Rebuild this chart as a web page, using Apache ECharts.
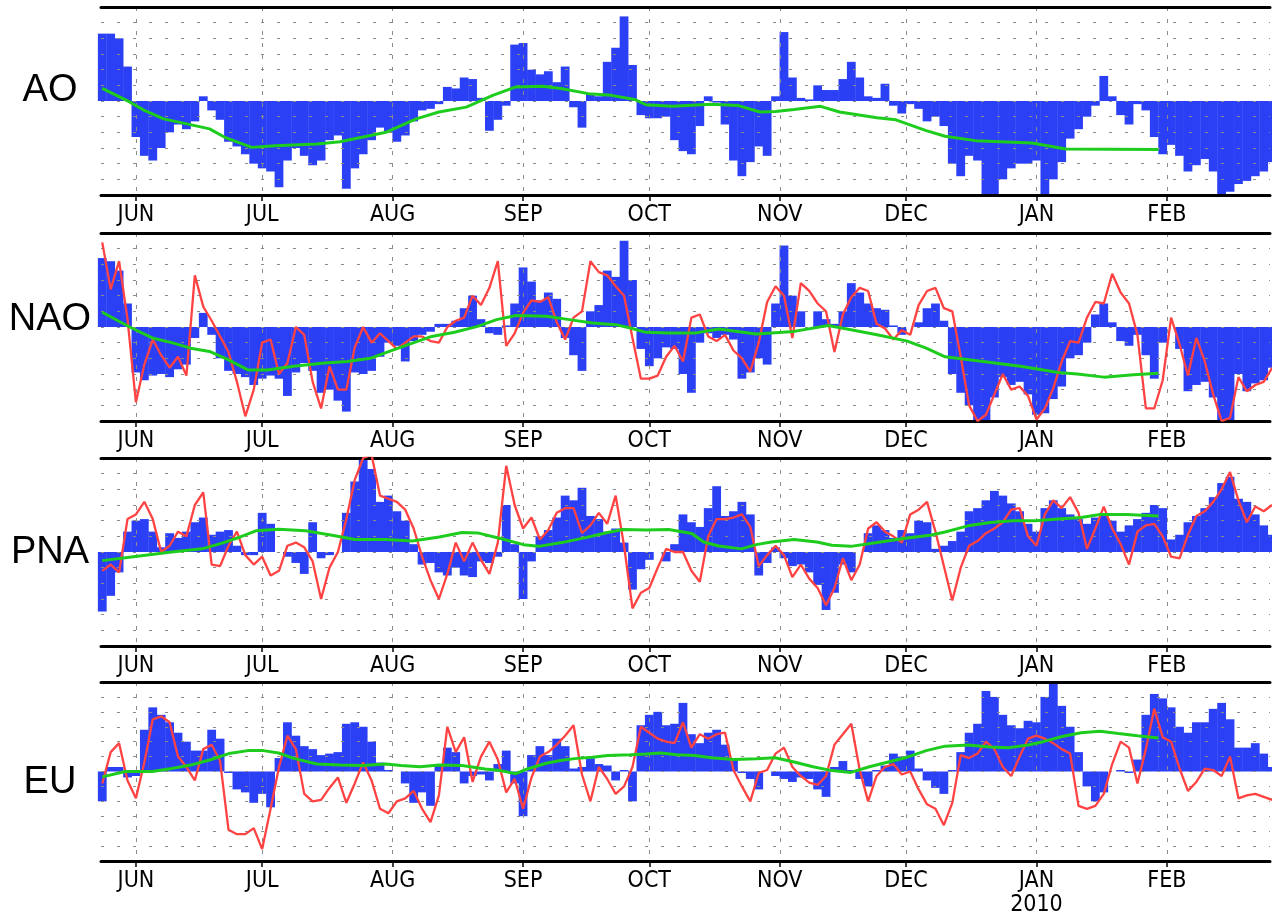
<!DOCTYPE html>
<html>
<head>
<meta charset="utf-8">
<script src="https://cdn.jsdelivr.net/npm/echarts@6/dist/echarts.min.js"></script>
<style>
html,body{margin:0;padding:0;background:#ffffff;}
#chart{width:1272px;height:917px;}
</style>
</head>
<body>
<div id="chart"></div>
<script>
// ---- axis / tick data ----
// day index 0 = 1 June 2009; samples every 2 days starting 24 May 2009 (day -8)
const monthDays  = [0, 30, 61, 92, 122, 153, 183, 214, 245];
const monthNames = ['JUN', 'JUL', 'AUG', 'SEP', 'OCT', 'NOV', 'DEC', 'JAN', 'FEB'];
const yearLabel  = '2010';
const panelNames = ['AO', 'NAO', 'PNA', 'EU'];
const firstDay = -8;
const dayStep  = 2;

// ---- AO ----
const barsAO = [
  4.3,4.3,4.0,2.2,-2.3,-3.5,-3.8,-3.0,-2.0,-1.5,
  -1.8,-1.3,0.3,-0.6,-1.2,-2.6,-2.9,-3.4,-4.0,-4.3,
  -4.5,-5.5,-3.8,-3.0,-3.5,-4.1,-3.8,-2.5,-2.2,-5.6,
  -4.3,-3.4,-2.5,-1.7,-2.0,-2.6,-2.2,-1.3,-0.6,-0.5,
  -0.2,0.9,0.8,1.5,1.4,0.2,-1.9,-1.2,-0.3,3.6,
  3.7,2.0,1.7,1.9,1.2,2.2,-0.4,-1.7,0.5,0.3,
  2.5,3.4,5.4,2.3,-0.9,-1.1,-1.1,-1.0,-2.5,-3.2,
  -3.4,-1.6,0.3,-0.1,-1.5,-3.8,-4.8,-3.9,-2.9,-3.5,
  0.3,4.4,1.5,0.2,0.1,1.0,0.7,0.7,1.4,2.5,
  1.5,0.3,0.2,1.1,-0.3,-0.8,-0.2,-0.5,-1.3,-1.0,
  -1.6,-4.0,-4.8,-3.5,-3.8,-6.5,-6.5,-5.0,-4.3,-4.0,
  -4.0,-3.8,-6.5,-5.0,-3.9,-2.4,-1.8,-1.0,-0.3,1.6,
  0.3,-0.9,-1.5,-0.2,-0.6,-2.3,-3.4,-2.8,-3.5,-4.5,
  -4.1,-3.7,-4.5,-6.2,-5.8,-5.3,-5.1,-4.8,-4.5,-3.9
];
const greenAO = [
  [-8,0.8],[-1.5,-0.06],[2,-0.6],[6.6,-1.14],[14,-1.57],[17.5,-1.78],[21,-2.3],[27.5,-2.96],
  [33,-2.85],[43,-2.75],[48.5,-2.6],[54,-2.3],[59.4,-2.0],[63,-1.57],[66.6,-1.14],[72,-0.7],
  [78.5,-0.39],[84.8,0.36],[90.3,0.9],[96.6,0.94],[101,0.8],[107.5,0.47],[113,0.36],[118.5,0.1],
  [121.2,-0.24],[127.5,-0.34],[136.7,-0.21],[143,-0.28],[148.3,-0.7],[152,-0.67],[156.4,-0.54],
  [162.7,-0.34],[167.2,-0.7],[176.1,-1.07],[180.6,-1.2],[187.8,-1.89],[192.3,-2.25],[199.5,-2.53],
  [212.9,-2.68],[221,-3.07],[243,-3.1]
];

// ---- NAO ----
const barsNAO = [
  4.4,4.2,3.6,1.5,-2.9,-3.4,-3.1,-3.0,-3.2,-2.7,
  -2.4,-0.7,0.9,-0.5,-2.0,-2.8,-3.0,-3.2,-3.7,-3.3,
  -3.1,-3.3,-4.4,-2.9,-2.3,-2.8,-4.2,-4.0,-4.7,-5.4,
  -2.9,-3.0,-2.8,-1.9,-1.0,-1.2,-2.2,-0.9,-0.5,-0.3,
  0.2,0.2,0.4,1.2,2.0,0.5,-0.4,-0.5,0.1,1.5,
  3.8,2.9,1.7,2.2,1.8,-0.7,-1.8,-2.8,1.0,1.4,
  3.6,3.2,5.5,3.0,-1.4,-2.5,-2.0,-1.3,-1.4,-3.0,
  -4.2,-1.0,-0.4,-0.7,-0.5,-0.8,-3.3,-2.9,-2.0,-2.4,
  1.5,5.2,2.0,1.0,0.0,1.0,0.5,0.2,1.0,2.8,
  2.2,1.5,1.2,1.1,0.1,-0.5,0.0,0.3,1.2,1.5,
  0.4,-3.0,-4.2,-5.0,-6.3,-6.3,-4.5,-3.2,-3.7,-3.5,
  -4.3,-5.6,-5.5,-4.6,-3.8,-2.0,-1.8,-1.0,0.8,1.5,
  0.3,-0.9,-1.2,-0.5,-1.8,-3.3,-1.0,0.0,-1.4,-4.1,
  -3.7,-3.5,-4.5,-6.3,-6.3,-3.0,-4.1,-3.6,-3.4,-2.6
];
const redNAO = [
  5.4,2.4,4.2,0.5,-4.8,-2.4,-0.8,-1.8,-2.6,-1.9,
  -3.1,3.3,1.3,0.4,-0.6,-1.6,-3.5,-5.7,-4.0,-1.0,
  -0.8,-3.0,-2.3,0.0,-0.5,-3.5,-5.2,-2.5,-4.0,-4.0,
  -1.3,0.0,-1.0,-0.4,-0.9,-1.4,-1.0,-0.6,-0.6,-0.9,
  -1.0,0.0,0.4,0.6,2.0,1.4,2.5,4.2,-1.2,-0.4,
  0.9,1.7,1.6,1.9,0.3,-0.8,0.6,1.0,4.2,3.5,
  3.3,2.6,2.0,-0.7,-3.3,-3.3,-3.1,-1.9,-1.2,-2.2,
  0.6,0.8,-0.6,-0.9,-0.5,-1.5,-2.0,-2.85,-1.0,1.6,
  2.6,2.0,-0.7,2.8,2.3,1.5,1.0,-1.6,0.8,1.9,
  2.5,2.3,0.2,-0.1,-0.8,-0.2,-0.5,1.4,2.3,2.5,
  1.2,1.0,-1.9,-5.0,-6.0,-5.6,-4.3,-3.0,-4.0,-3.8,
  -4.4,-5.9,-5.2,-3.9,-2.2,-0.9,-1.0,0.6,1.6,1.5,
  3.4,2.2,1.5,-0.5,-5.2,-5.2,-3.4,0.6,-1.1,-3.1,
  -0.7,-2.2,-4.3,-6.0,-5.8,-3.2,-4.1,-3.7,-3.5,-2.6
];
const greenNAO = [
  [-8,0.94],[-1.5,0],[3.9,-0.7],[8.5,-1.0],[13,-1.35],[17.5,-1.56],[22,-2.1],[26.6,-2.74],
  [31.2,-2.74],[37.5,-2.5],[44.8,-2.3],[50.3,-2.2],[55.7,-2.0],[61.2,-1.46],[65.7,-1.03],
  [70.3,-0.6],[75.7,-0.34],[81.2,0.04],[85.7,0.47],[90.3,0.73],[97.5,0.68],[103,0.47],
  [108.5,0.26],[114,0.15],[117.5,-0.06],[121.2,-0.34],[126.6,-0.39],[132.8,-0.39],[138.5,-0.13],
  [147.4,-0.45],[156.4,-0.28],[164.5,0.1],[169.9,-0.17],[176.1,-0.5],[183.3,-0.9],[187.8,-1.35],
  [192.3,-1.9],[201.3,-2.2],[210.2,-2.5],[219.2,-2.9],[223.7,-3.0],[230,-3.2],[237.1,-3.05],[243,-2.95]
];

// ---- PNA ----
const barsPNA = [
  -3.8,-2.8,-1.3,1.3,2.0,2.1,1.3,0.3,1.2,0.9,
  1.3,1.9,2.2,1.1,1.3,1.4,0.4,-0.2,-0.2,2.5,
  1.8,0.0,-0.3,-0.7,-1.4,1.9,-0.4,-0.2,0.0,2.5,
  4.5,6.0,5.3,3.2,3.6,2.6,2.0,0.5,-0.8,-0.7,
  -1.3,-1.5,-1.0,-1.5,-1.6,-0.6,-0.7,-0.3,3.0,0.5,
  -3.0,-0.6,1.0,1.4,2.2,3.6,3.3,4.1,2.3,2.1,
  1.3,1.5,0.6,-2.4,-1.1,-0.5,0.0,-0.6,0.5,2.4,
  1.9,1.6,2.8,4.2,2.3,2.6,3.2,2.4,-1.5,-0.7,
  0.3,-0.4,-0.9,-0.8,-1.3,-2.1,-3.7,-2.6,-0.8,-1.3,
  0.0,1.2,1.7,1.4,0.9,1.4,1.2,2.0,1.9,0.2,
  0.4,0.7,1.3,2.6,2.8,3.3,3.9,3.6,3.1,2.6,
  1.8,1.3,2.8,3.3,2.8,2.4,2.1,1.8,2.2,2.3,
  2.0,1.3,1.7,2.1,2.5,3.0,2.8,0.8,1.1,1.9,
  2.3,2.8,3.5,4.4,4.8,3.4,3.2,2.4,1.7,1.1
];
const redPNA = [
  -1.2,-0.8,-1.3,2.1,2.4,3.2,2.1,0.0,0.4,1.3,
  1.0,3.0,3.8,-0.8,-0.9,0.4,1.3,-0.2,-0.8,-0.3,
  -1.5,-1.2,0.4,0.6,0.3,-0.6,-3.0,-1.0,0.0,2.1,
  4.6,6.0,6.2,3.6,3.4,3.2,2.7,1.5,-0.3,-1.8,
  -3.0,-1.4,0.6,-0.6,0.6,-0.5,-1.4,0.6,5.5,3.0,
  1.5,2.2,0.8,1.4,2.5,2.8,2.8,1.2,1.7,2.5,
  1.8,3.6,0.4,-3.6,-2.6,-2.3,-1.0,0.2,0.0,0.0,
  -1.2,-1.9,1.0,2.1,2.1,2.2,2.4,1.6,-0.9,-0.2,
  0.4,-0.2,-1.6,-0.8,-1.7,-2.3,-3.4,-2.3,-0.4,-1.8,
  -0.8,1.5,1.9,1.3,1.0,0.6,2.4,2.7,3.2,1.3,
  -0.9,-3.1,-1.0,0.4,0.7,1.2,1.5,1.9,2.7,2.8,
  1.0,0.4,2.4,3.3,2.8,3.5,2.5,0.2,1.5,2.9,
  1.5,0.5,-0.8,1.3,1.7,1.8,1.0,-0.3,-0.4,1.1,
  2.3,2.6,3.2,4.0,5.1,3.3,1.9,2.9,2.6,3.0
];
const greenPNA = [
  [-8,-0.55],[-0.6,-0.3],[8.5,0],[15.7,0.2],[20.3,0.55],[24.8,0.96],[28.5,1.35],[33.9,1.45],
  [40.3,1.35],[46.6,1.07],[52.1,0.8],[59.4,0.8],[65.7,0.7],[72.1,0.96],[77.5,1.25],[81.2,1.22],
  [86.6,0.86],[92.1,0.47],[95.7,0.36],[101.2,0.6],[106.6,0.9],[112.1,1.25],[115.7,1.43],
  [121.2,1.41],[126.6,1.43],[132.1,1.18],[134.9,0.64],[138.5,0.38],[143.9,0.2],[147.4,0.47],
  [151,0.64],[156.4,0.8],[161.8,0.64],[165.4,0.43],[169.9,0.36],[176.1,0.6],[183.3,0.9],
  [188.7,1.07],[192.3,1.28],[197.7,1.67],[203,1.88],[208.4,2.0],[213.8,2.0],[219.2,2.1],
  [224.6,2.2],[229.1,2.4],[235.3,2.4],[243,2.3]
];

// ---- EU ----
const barsEU = [
  -2.0,0.3,0.3,-0.4,-0.3,2.8,4.3,3.8,3.3,2.6,
  2.0,1.4,1.4,2.8,2.2,-0.1,-1.2,-1.4,-2.1,-1.5,
  -2.4,0.9,3.3,2.4,1.7,1.5,1.1,1.2,1.3,3.2,
  3.3,3.0,2.0,0.6,0.1,0.0,-0.8,-2.1,-1.4,-2.3,
  0.5,1.6,1.3,-0.8,-0.3,-0.2,-0.6,0.5,1.4,-0.8,
  -3.0,1.1,1.7,1.1,2.2,1.7,0.2,0.3,0.9,0.5,
  0.4,-0.6,0.1,-2.0,3.1,3.8,4.0,3.1,3.2,4.6,
  2.5,1.9,2.6,2.8,1.8,0.9,-0.1,-0.5,-1.2,0.0,
  -0.3,-0.5,-0.7,-0.4,-0.5,-1.2,-1.7,0.3,0.7,0.1,
  -0.5,-1.0,0.1,0.4,1.2,1.0,1.4,0.2,-0.6,-1.1,
  -1.5,0.1,1.3,2.6,3.2,5.4,5.0,3.8,3.1,2.9,
  3.4,3.3,5.0,5.9,4.4,3.0,1.3,-1.0,-2.0,-1.4,
  0.0,0.1,-0.1,0.8,3.8,5.2,4.9,4.3,3.0,2.6,
  3.3,3.3,4.2,4.6,3.5,1.6,1.6,1.9,1.2,0.3
];
const redEU = [
  -0.8,1.3,1.9,-0.6,-1.8,0.6,3.5,3.7,3.3,1.0,
  0.3,-0.6,1.5,1.8,0.7,-3.9,-4.2,-4.2,-3.8,-5.2,
  -2.5,0.3,2.4,1.5,-1.5,-2.0,-1.9,-1.1,-0.4,-2.1,
  -0.8,0.6,-0.6,-2.5,-2.8,-2.0,-1.8,-1.3,-2.5,-3.4,
  -1.6,3.0,1.3,2.3,-0.7,1.0,2.0,0.8,-1.4,-0.5,
  -2.5,-0.4,1.0,1.3,1.8,2.4,3.1,-0.2,-2.0,0.3,
  -0.5,-1.5,-1.0,0.3,3.0,2.6,2.2,2.0,1.9,3.3,
  1.6,2.5,2.2,2.5,2.6,0.1,-1.0,-2.0,-0.1,0.1,
  1.2,1.6,0.3,-0.3,-0.75,-0.9,-0.3,1.8,2.5,3.2,
  0.1,-2.0,-0.3,0.3,0.5,-0.2,0.0,-1.2,-2.2,-2.5,
  -3.6,-2.1,1.1,0.9,1.2,2.0,1.5,0.3,-0.3,1.0,
  2.2,2.4,2.2,1.9,1.5,1.2,-2.3,-2.5,-2.3,-1.5,
  0.5,2.0,1.6,-0.8,1.5,4.2,2.3,2.0,0.2,-1.3,
  -0.7,0.2,0.1,-0.3,1.0,-1.8,-1.6,-1.5,-1.7,-1.9
];
const greenEU = [
  [-8,-0.36],[-2.5,0],[3.9,0],[8.5,0.2],[13,0.43],[17.5,0.77],[22.1,1.2],[26.6,1.4],[30.3,1.4],
  [33.9,1.24],[37.5,0.88],[43,0.5],[48.5,0.43],[53.9,0.4],[59.4,0.5],[63,0.4],[67.5,0.32],
  [72.1,0.43],[77.5,0.4],[83,0.17],[86.6,0.06],[90.3,-0.15],[93,0.17],[97.5,0.55],[101.2,0.75],
  [104.8,0.88],[108.5,0.96],[112.1,1.07],[117.5,1.13],[121.2,1.18],[124.8,1.24],[128.5,1.13],
  [132.8,1.07],[136.7,0.92],[142.1,0.8],[147.4,0.86],[151.9,0.92],[156.4,0.64],[160.9,0.32],
  [165.4,0.06],[169.9,-0.06],[174.3,0.32],[178.8,0.64],[183.3,0.96],[187.8,1.4],[192.3,1.7],
  [197.7,1.78],[203,1.65],[207.5,1.6],[212,1.78],[215.6,2.0],[220.1,2.35],[224.6,2.6],
  [229.1,2.7],[233.5,2.55],[238,2.4],[243,2.25]
];

// ---- build chart ----
const panels = [
  { name: 'AO',  bars: barsAO,  red: null,    green: greenAO,  top: 7,   labelY: 91 },
  { name: 'NAO', bars: barsNAO, red: redNAO,  green: greenNAO, top: 233, labelY: 320 },
  { name: 'PNA', bars: barsPNA, red: redPNA,  green: greenPNA, top: 458, labelY: 553 },
  { name: 'EU',  bars: barsEU,  red: redEU,   green: greenEU,  top: 682, labelY: 783 }
];

function withDays(arr) {
  return arr.map((v, i) => [firstDay + i * dayStep, v]);
}

const BLUE = '#2B40F5', RED = '#FF4242', GREEN = '#1ECC1E';
const labelFont = "'Liberation Sans Narrow','DejaVu Sans Condensed','Arial Narrow',sans-serif";

const grid = [], xAxis = [], yAxis = [], series = [], graphic = [];
panels.forEach((p, i) => {
  const last = i === panels.length - 1;
  grid.push({ left: 101, right: 2, top: p.top, height: 188 });
  // bottom axis with month ticks
  xAxis.push({
    gridIndex: i, type: 'value', min: -8.3, max: 269.5, position: 'bottom', z: 3,
    axisLine: { show: true, onZero: false, lineStyle: { color: '#000', width: 3 } },
    axisTick: { show: true, customValues: monthDays, length: 6, lineStyle: { color: '#000', width: 1.5 } },
    axisLabel: {
      show: true, customValues: monthDays, margin: 8, color: '#000',
      fontSize: 23, lineHeight: 24, fontFamily: labelFont,
      formatter: function (v) {
        const k = monthDays.indexOf(v);
        const n = k >= 0 ? monthNames[k] : '';
        return (last && n === 'JAN') ? n + '\n' + yearLabel : n;
      }
    },
    splitLine: { show: true, lineStyle: { color: '#8c8c8c', width: 1, type: [4, 8] } }
  });
  // top border axis
  xAxis.push({
    gridIndex: i, type: 'value', min: -8.3, max: 269.5, position: 'top', z: 3,
    axisLine: { show: true, onZero: false, lineStyle: { color: '#000', width: 3 } },
    axisTick: { show: false }, axisLabel: { show: false }, splitLine: { show: false }
  });
  yAxis.push({
    gridIndex: i, type: 'value', min: -6, max: 6, interval: 1, z: 3,
    axisLine: { show: false }, axisTick: { show: false }, axisLabel: { show: false },
    splitLine: { show: true, lineStyle: { color: '#8c8c8c', width: 1.2, type: [3, 13] } }
  });
  series.push({
    type: 'bar', name: p.name + ' daily', xAxisIndex: 2 * i, yAxisIndex: i,
    data: withDays(p.bars), barWidth: 8.8, itemStyle: { color: BLUE }, z: 2,
    clip: true, animation: false, silent: true
  });
  if (p.red) {
    series.push({
      type: 'line', name: p.name + ' red', xAxisIndex: 2 * i, yAxisIndex: i,
      data: withDays(p.red), symbol: 'none', showSymbol: false, clip: true,
      lineStyle: { color: RED, width: 2.3 }, z: 4, animation: false, silent: true
    });
  }
  series.push({
    type: 'line', name: p.name + ' mean', xAxisIndex: 2 * i, yAxisIndex: i,
    data: p.green, symbol: 'none', showSymbol: false, clip: true,
    lineStyle: { color: GREEN, width: 3 }, z: 5, animation: false, silent: true
  });
  graphic.push({
    type: 'text', x: 50, y: p.labelY, silent: true,
    style: {
      text: p.name, fill: '#000', font: "38px 'Liberation Sans', Arial, sans-serif",
      align: 'center', verticalAlign: 'middle', textAlign: 'center', textVerticalAlign: 'middle'
    }
  });
});

const chart = echarts.init(document.getElementById('chart'), null, { renderer: 'canvas' });
chart.setOption({
  backgroundColor: '#ffffff',
  animation: false,
  grid: grid, xAxis: xAxis, yAxis: yAxis, series: series, graphic: graphic
});
</script>
</body>
</html>
